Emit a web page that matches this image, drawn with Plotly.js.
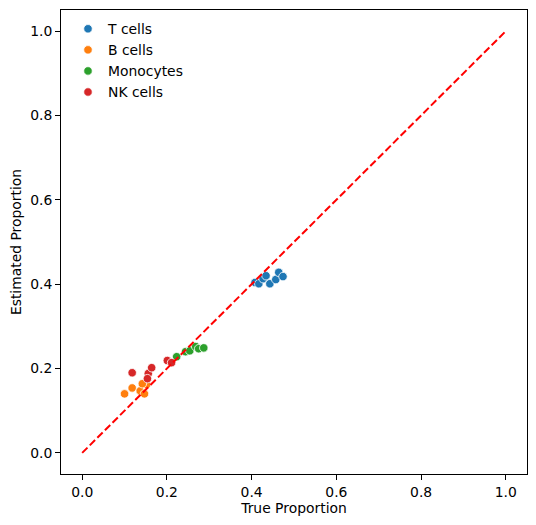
<!DOCTYPE html>
<html>
<head>
<meta charset="utf-8">
<script src="https://cdn.plot.ly/plotly-3.0.1.min.js"></script>
<style>html,body{margin:0;padding:0;background:#fff;}#chart{width:536px;height:525px;}</style>
</head>
<body>
<div id="chart"></div>
<script>
const categories = ["T cells", "B cells", "Monocytes", "NK cells"];
const colors = ["#1f77b4", "#ff7f0e", "#2ca02c", "#d62728"];

const tTrue = [0.408, 0.417, 0.427, 0.434, 0.443, 0.457, 0.464, 0.474];
const tEst  = [0.404, 0.401, 0.413, 0.420, 0.401, 0.411, 0.428, 0.418];

const bTrue = [0.100, 0.118, 0.137, 0.147, 0.152, 0.142];
const bEst  = [0.140, 0.154, 0.147, 0.140, 0.162, 0.164];

const mTrue = [0.223, 0.244, 0.254, 0.268, 0.275, 0.287];
const mEst  = [0.228, 0.240, 0.242, 0.252, 0.247, 0.249];

const nkTrue = [0.118, 0.156, 0.164, 0.154, 0.201, 0.211];
const nkEst  = [0.190, 0.188, 0.202, 0.176, 0.219, 0.214];

const idealLine = [0, 1];

const xs = [tTrue, bTrue, mTrue, nkTrue];
const ys = [tEst, bEst, mEst, nkEst];

const traces = categories.map((c, i) => ({
  type: "scatter", mode: "markers", name: c,
  x: xs[i], y: ys[i],
  marker: { color: colors[i], size: 8.5, line: { color: "#ffffff", width: 0.8 } }
}));
traces.push({
  type: "scatter", mode: "lines", x: idealLine, y: idealLine, showlegend: false,
  line: { color: "#ff0000", width: 2, dash: "7.5px,3.2px" }, hoverinfo: "skip"
});

const axisCommon = {
  range: [-0.05, 1.05], showgrid: false, zeroline: false,
  showline: true, linecolor: "#000", linewidth: 1, mirror: true,
  ticks: "outside", ticklen: 5, tickwidth: 1, tickcolor: "#000",
  tickvals: [0, 0.2, 0.4, 0.6, 0.8, 1.0], tickformat: ".1f",
  tickfont: { family: "DejaVu Sans", size: 13.9, color: "#000" }
};

const layout = {
  width: 536, height: 525,
  margin: { l: 61, r: 9, t: 10, b: 51 },
  paper_bgcolor: "#fff", plot_bgcolor: "#fff",
  font: { family: "DejaVu Sans", size: 13.9, color: "#000" },
  xaxis: Object.assign({}, axisCommon, { title: { text: "True Proportion", font: { size: 13.9 }, standoff: 4 } }),
  yaxis: Object.assign({}, axisCommon, { title: { text: "Estimated Proportion", font: { size: 13.9 }, standoff: 5 } }),
  legend: { x: 0.015, y: 0.993, xanchor: "left", yanchor: "top", bgcolor: "rgba(0,0,0,0)", borderwidth: 0, font: { size: 13.9 } },
  showlegend: true
};

Plotly.newPlot("chart", traces, layout, { displayModeBar: false, staticPlot: true });
</script>
</body>
</html>
